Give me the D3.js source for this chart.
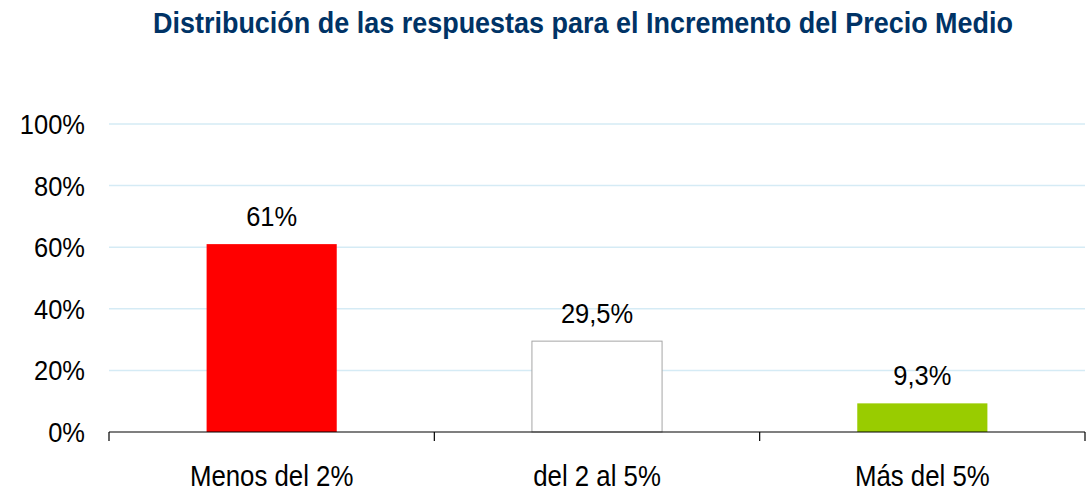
<!DOCTYPE html>
<html>
<head>
<meta charset="utf-8">
<script src="https://cdn.jsdelivr.net/npm/d3@7"></script>
<style>
  html, body { margin: 0; padding: 0; background: #fff; }
  svg { display: block; }
</style>
</head>
<body>
<svg id="chart" width="1091" height="493"></svg>
<script>
// chart data
const categories = ["Menos del 2%", "del 2 al 5%", "Más del 5%"];
const values = [61, 29.5, 9.3];
const barColors = ["#ff0000", "#ffffff", "#99cc00"];
const yTicks = [0, 20, 40, 60, 80, 100];
const titleText = "Distribución de las respuestas para el Incremento del Precio Medio";

const svg = d3.select("#chart");
const margin = { top: 124, right: 6, bottom: 61, left: 109 };
const width = 1091 - margin.left - margin.right;
const height = 493 - margin.top - margin.bottom;

const es = d3.formatLocale({ decimal: ",", thousands: ".", grouping: [3], currency: ["", " €"] });
const fmt = es.format(".1~f");

const x = d3.scaleBand().domain(categories).range([0, width]).paddingInner(0).paddingOuter(0);
const y = d3.scaleLinear().domain([0, 100]).range([height, 0]);

const FONT = "'Liberation Sans', Arial, sans-serif";
const squeeze = 0.91; // the labels look a bit condensed

// title
svg.append("text")
    .attr("x", 583)
    .attr("y", 33)
    .attr("text-anchor", "middle")
    .attr("textLength", 860)
    .attr("lengthAdjust", "spacingAndGlyphs")
    .style("font-family", FONT)
    .style("font-weight", "bold")
    .style("font-size", "29px")
    .style("fill", "#003366")
    .text(titleText);

const g = svg.append("g")
    .attr("transform", "translate(" + margin.left + "," + margin.top + ")");

// gridlines
g.selectAll(".grid")
    .data(yTicks.filter(d => d > 0))
    .enter()
    .append("line")
    .attr("x1", 0)
    .attr("x2", width)
    .attr("y1", d => y(d))
    .attr("y2", d => y(d))
    .attr("stroke", "#d5ebf5")
    .attr("stroke-width", 1.5);

// y tick labels (no axis line)
g.selectAll(".ylab")
    .data(yTicks)
    .enter()
    .append("text")
    .attr("transform", d => "translate(-24," + (y(d) + 10) + ") scale(" + squeeze + ",1)")
    .attr("text-anchor", "end")
    .style("font-family", FONT)
    .style("font-size", "28px")
    .style("fill", "#000")
    .text(d => d + "%");

// bars
const barW = x.bandwidth() * 0.4;
g.selectAll(".bar")
    .data(values)
    .enter()
    .append("rect")
    .attr("x", (d, i) => x(categories[i]) + (x.bandwidth() - barW) / 2)
    .attr("y", d => y(d))
    .attr("width", barW)
    .attr("height", d => height - y(d))
    .attr("fill", (d, i) => barColors[i])
    .attr("stroke", (d, i) => barColors[i] === "#ffffff" ? "#a6a6a6" : "none")
    .attr("stroke-width", 1);

// value labels
g.selectAll(".val")
    .data(values)
    .enter()
    .append("text")
    .attr("transform", (d, i) => "translate(" + (x(categories[i]) + x.bandwidth() / 2) + "," + (y(d) - 18) + ") scale(" + squeeze + ",1)")
    .attr("text-anchor", "middle")
    .style("font-family", FONT)
    .style("font-size", "28px")
    .style("fill", "#000")
    .text(d => fmt(d) + "%");

// x axis baseline with boundary ticks
const bounds = d3.range(categories.length + 1).map(i => i * x.step());
g.append("line")
    .attr("x1", 0)
    .attr("x2", width)
    .attr("y1", height)
    .attr("y2", height)
    .attr("stroke", "#000")
    .attr("stroke-width", 1.2);
g.selectAll(".xtick")
    .data(bounds)
    .enter()
    .append("line")
    .attr("x1", d => d)
    .attr("x2", d => d)
    .attr("y1", height)
    .attr("y2", height + 9)
    .attr("stroke", "#000")
    .attr("stroke-width", 1.2);

// category labels
g.selectAll(".cat")
    .data(categories)
    .enter()
    .append("text")
    .attr("transform", d => "translate(" + (x(d) + x.bandwidth() / 2) + "," + (height + 54) + ") scale(" + 0.89 + ",1)")
    .attr("text-anchor", "middle")
    .style("font-family", FONT)
    .style("font-size", "29px")
    .style("fill", "#000")
    .text(d => d);
</script>
</body>
</html>
